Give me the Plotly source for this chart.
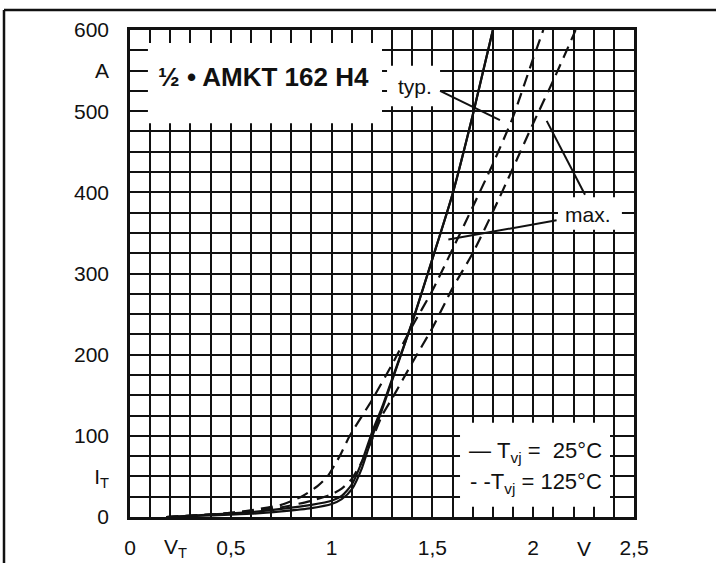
import plotly.graph_objects as go

# ---- data ----
v_typ25 = [0.18, 0.4, 0.6, 0.75, 0.9, 1.0, 1.05, 1.1, 1.15, 1.2, 1.25, 1.3, 1.4, 1.5, 1.6, 1.7, 1.8]
i_typ25 = [0, 3, 6, 10, 15, 20, 26, 40, 68, 104, 135, 170, 240, 318, 398, 495, 600]

v_max25 = [0.18, 0.4, 0.6, 0.75, 0.9, 1.0, 1.05, 1.1, 1.15, 1.2, 1.25, 1.3, 1.4, 1.5, 1.6, 1.7, 1.8]
i_max25 = [0, 2, 4, 7, 11, 16, 22, 34, 60, 98, 132, 168, 240, 318, 398, 495, 600]

v_typ125 = [0.18, 0.5, 0.75, 0.85, 0.93, 0.98, 1.04, 1.09, 1.2, 1.3, 1.4, 1.5, 1.6, 1.7, 1.8, 1.9, 2.0, 2.05]
i_typ125 = [0, 5, 15, 25, 38, 50, 75, 100, 144, 188, 235, 279, 330, 382, 435, 493, 565, 600]

v_max125 = [0.18, 0.5, 0.75, 0.9, 1.0, 1.05, 1.1, 1.15, 1.2, 1.25, 1.3, 1.4, 1.5, 1.6, 1.7, 1.8, 1.9, 2.0, 2.1, 2.2, 2.21]
i_max125 = [0, 5, 12, 20, 28, 35, 47, 68, 95, 125, 146, 190, 233, 282, 325, 376, 430, 485, 538, 594, 600]

x_tickvals = [0, 0.5, 1, 1.5, 2, 2.5]
x_ticktext = ["0", "0,5", "1", "1,5", "2", "2,5"]
y_tickvals = [0, 50, 100, 200, 300, 400, 500, 550, 600]
y_ticktext = ["0", "I<sub>T</sub>", "100", "200", "300", "400", "500", "A", "600"]

FONT = "Liberation Sans, Arial, sans-serif"
INK = "#111111"

fig = go.Figure()
for v, i, dash in [(v_typ25, i_typ25, "solid"), (v_max25, i_max25, "solid"),
                   (v_typ125, i_typ125, "12px,7px"), (v_max125, i_max125, "12px,7px")]:
    fig.add_trace(go.Scatter(x=v, y=i, mode="lines", line=dict(color=INK, width=2.2, dash=dash,
                                                               shape="spline", smoothing=0.6),
                             showlegend=False, hoverinfo="skip"))

# white boxes that mask the grid behind labels
boxes = [
    (0.089, 1.25, 485, 584),    # title
    (1.275, 1.538, 506, 556),   # typ.
    (2.123, 2.44, 354, 394),    # max.
    (1.637, 2.381, 12.7, 116),  # legend
]
shapes = []
for x0, x1, y0, y1 in boxes:
    shapes.append(dict(type="rect", xref="x", yref="y", x0=x0, x1=x1, y0=y0, y1=y1,
                       fillcolor="white", line=dict(width=0), layer="between"))
# leader lines
for x0, y0, x1, y1 in [(1.538, 525, 1.835, 489), (2.067, 488, 2.257, 397), (1.579, 342, 2.116, 365.5)]:
    shapes.append(dict(type="line", xref="x", yref="y", x0=x0, y0=y0, x1=x1, y1=y1,
                       line=dict(color=INK, width=2), layer="above"))
# outer frame (top and left)
shapes.append(dict(type="line", xref="paper", yref="paper", x0=-0.25, x1=1.2, y0=1.041, y1=1.041,
                   line=dict(color=INK, width=2.5)))
shapes.append(dict(type="line", xref="paper", yref="paper", x0=-0.25, x1=-0.25, y0=-0.2, y1=1.041,
                   line=dict(color=INK, width=2.5)))

annotations = [
    dict(text="<b>½ • AMKT 162 H4</b>", x=0.66, y=542, xref="x", yref="y", showarrow=False,
         font=dict(size=26, family=FONT, color=INK), xanchor="center", yanchor="middle"),
    dict(text="typ.", x=1.32, y=531, xref="x", yref="y", showarrow=False,
         font=dict(size=21, family=FONT, color=INK), xanchor="left", yanchor="middle"),
    dict(text="max.", x=2.15, y=373, xref="x", yref="y", showarrow=False,
         font=dict(size=21, family=FONT, color=INK), xanchor="left", yanchor="middle"),
    dict(text="—\u00a0T<sub>vj</sub>\u00a0=\u00a0\u00a025°C", x=2.351, y=80, xref="x", yref="y", showarrow=False,
         font=dict(size=22, family=FONT, color=INK), xanchor="right", yanchor="middle"),
    dict(text="-\u00a0-T<sub>vj</sub>\u00a0=\u00a0125°C", x=2.351, y=42, xref="x", yref="y", showarrow=False,
         font=dict(size=22, family=FONT, color=INK), xanchor="right", yanchor="middle"),
    dict(text="V<sub>T</sub>", x=0.225, y=-0.064, xref="x", yref="paper", showarrow=False,
         font=dict(size=21, family=FONT, color=INK), xanchor="center", yanchor="middle"),
    dict(text="V", x=2.25, y=-0.064, xref="x", yref="paper", showarrow=False,
         font=dict(size=21, family=FONT, color=INK), xanchor="center", yanchor="middle"),
]

grid = dict(showgrid=True, gridcolor=INK, gridwidth=1.6)
fig.update_layout(
    width=716, height=563,
    margin=dict(l=130, r=82, t=30, b=46, autoexpand=False),
    paper_bgcolor="white", plot_bgcolor="white",
    shapes=shapes, annotations=annotations,
    xaxis=dict(range=[0, 2.5], tickvals=x_tickvals, ticktext=x_ticktext, ticks="", automargin=False,
               ticklabelstandoff=10, showline=True, mirror=True, linecolor=INK, linewidth=2.5,
               zeroline=False, tickfont=dict(size=21, family=FONT, color=INK),
               minor=dict(dtick=0.1, tick0=0, showgrid=True, gridcolor=INK, gridwidth=1.6, ticks=""),
               **grid),
    yaxis=dict(range=[0, 600], tickvals=y_tickvals, ticktext=y_ticktext, ticks="", automargin=False,
               ticklabelstandoff=14, showline=True, mirror=True, linecolor=INK, linewidth=2.5,
               zeroline=False, tickfont=dict(size=21, family=FONT, color=INK),
               minor=dict(dtick=25, tick0=0, showgrid=True, gridcolor=INK, gridwidth=1.6, ticks=""),
               **grid),
)

page_fix = (
    "var h=document.documentElement,b=document.body;"
    "h.style.margin='0';h.style.padding='0';h.style.overflow='hidden';h.style.height='563px';"
    "b.style.margin='0';b.style.padding='0';b.style.overflow='hidden';b.style.height='563px';"
    "var d=b.firstElementChild;if(d){d.style.height='563px';d.style.overflow='hidden';}"
)
fig.write_html("out.html", config={"displayModeBar": False}, post_script=page_fix)
